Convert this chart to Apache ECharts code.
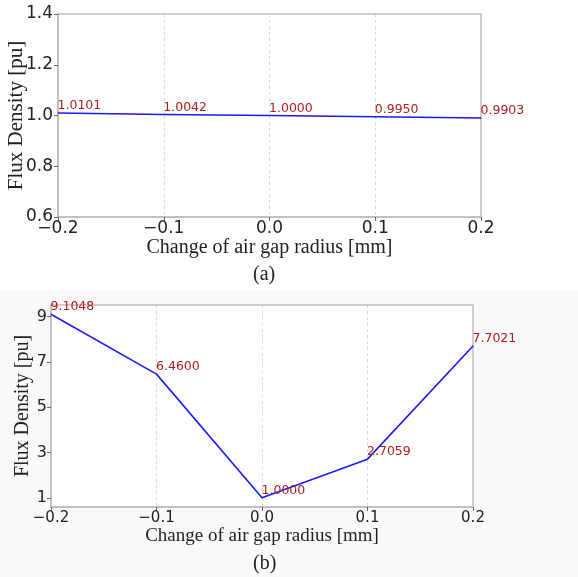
<!DOCTYPE html>
<html>
<head>
<meta charset="utf-8">
<script src="https://cdn.jsdelivr.net/npm/echarts@6/dist/echarts.min.js"></script>
<style>
html,body{margin:0;padding:0;background:#fff;}
#bg{position:absolute;left:0;top:290px;width:578px;height:287px;background:#f9f9f9;}
#c{position:absolute;left:0;top:0;width:578px;height:577px;}
</style>
</head>
<body>
<div id="bg"></div>
<div id="c"></div>
<script>
const xValues = [-0.2, -0.1, 0.0, 0.1, 0.2];
const fluxA = [1.0101, 1.0042, 1.0000, 0.9950, 0.9903];
const fluxB = [9.1048, 6.4600, 1.0000, 2.7059, 7.7021];
const yTicksA = [0.6, 0.8, 1.0, 1.2, 1.4];
const yTicksB = [1, 3, 5, 7, 9];
const xTitle = 'Change of air gap radius [mm]';
const yTitle = 'Flux Density [pu]';
const captions = ['(a)', '(b)'];

const chart = echarts.init(document.getElementById('c'), null, {renderer: 'canvas'});
const serif = '"Liberation Serif","Times New Roman",serif';
const sans = '"DejaVu Sans",sans-serif';
const gridLine = {show: true, lineStyle: {color: '#d0d0d0', type: [3, 3], width: 0.8}};
const axisLine = {show: true, onZero: false, lineStyle: {color: '#bdbdbd', width: 1.5}};
const tick = {show: true, length: 4, lineStyle: {color: '#444', width: 0.8}};
function xLabelFmt(v){ const s = Number(v).toFixed(1); return s.replace('-', '\u2212'); }
function makeSeries(data, idx){
  return {
    type: 'line', xAxisIndex: idx, yAxisIndex: idx,
    data: xValues.map((x, i) => [x, data[i]]),
    symbol: 'circle', symbolSize: 1, showSymbol: true,
    itemStyle: {color: '#1a1aff'},
    lineStyle: {color: '#1a1aff', width: 1.6},
    label: {
      show: true, position: [0, 0], align: 'left', verticalAlign: 'bottom',
      color: '#b01e1e', fontFamily: sans, fontSize: 12.5,
      formatter: p => p.value[1].toFixed(4)
    },
    animation: false, silent: true
  };
}
chart.setOption({
  animation: false,
  grid: [
    {left: 58, top: 14, width: 423, height: 203, show: true, backgroundColor: '#fff', borderColor: '#bdbdbd', borderWidth: 1.5, outerBoundsMode: 'none', containLabel: false},
    {left: 51, top: 305, width: 422, height: 202, show: true, backgroundColor: '#fff', borderColor: '#bdbdbd', borderWidth: 1.5, outerBoundsMode: 'none', containLabel: false}
  ],
  xAxis: [
    {type: 'value', gridIndex: 0, min: -0.2, max: 0.2, interval: 0.1,
     axisLine, axisTick: tick, splitLine: gridLine,
     axisLabel: {fontFamily: sans, fontSize: 17, color: '#222', margin: 3, formatter: xLabelFmt},
     name: xTitle, nameLocation: 'middle', nameGap: 21, nameMoveOverlap: false,
     nameTextStyle: {fontFamily: serif, fontSize: 20, color: '#222'}},
    {type: 'value', gridIndex: 1, min: -0.2, max: 0.2, interval: 0.1,
     axisLine, axisTick: tick, splitLine: gridLine,
     axisLabel: {fontFamily: sans, fontSize: 15, color: '#222', margin: 4, formatter: xLabelFmt},
     name: xTitle, nameLocation: 'middle', nameGap: 20, nameMoveOverlap: false,
     nameTextStyle: {fontFamily: serif, fontSize: 19, color: '#222'}}
  ],
  yAxis: [
    {type: 'value', gridIndex: 0, min: 0.6, max: 1.4, interval: 0.2,
     axisLine, axisTick: tick, splitLine: {show: false},
     axisLabel: {fontFamily: sans, fontSize: 17, color: '#222', margin: 5,
       formatter: v => Number(v).toFixed(1)},
     name: yTitle, nameLocation: 'middle', nameGap: 31, nameRotate: 90, nameMoveOverlap: false,
     nameTextStyle: {fontFamily: serif, fontSize: 21, color: '#222'}},
    {type: 'value', gridIndex: 1, min: 0.595, max: 9.51,
     axisLine, splitLine: {show: false},
     axisTick: Object.assign({customValues: yTicksB}, tick),
     axisLabel: {customValues: yTicksB, fontFamily: sans, fontSize: 16, color: '#222', margin: 4,
       formatter: v => String(Math.round(v))},
     name: yTitle, nameLocation: 'middle', nameGap: 18, nameRotate: 90, nameMoveOverlap: false,
     nameTextStyle: {fontFamily: serif, fontSize: 20, color: '#222'}}
  ],
  series: [makeSeries(fluxA, 0), makeSeries(fluxB, 1)],
  graphic: [
    {type: 'text', left: 253, top: 265, style: {text: captions[0], font: '20px ' + serif, fill: '#222'}},
    {type: 'text', left: 253, top: 554, style: {text: captions[1], font: '20px ' + serif, fill: '#222'}}
  ]
});
</script>
</body>
</html>
